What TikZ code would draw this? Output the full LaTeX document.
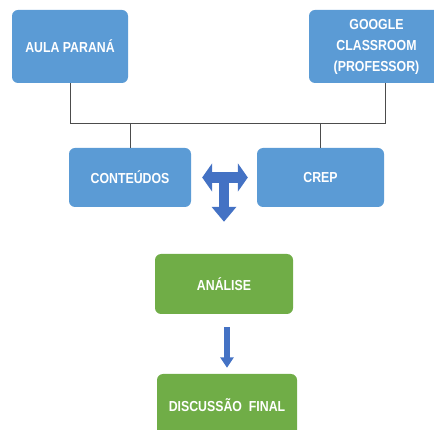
\documentclass[tikz,border=0pt]{standalone}
\usepackage{fontspec}
\setmainfont{Liberation Sans}[FakeStretch=0.85]
\usepackage{xcolor}
\usetikzlibrary{arrows.meta}

\definecolor{boxblue}{HTML}{5B9BD5}
\definecolor{boxgreen}{HTML}{70AD47}
\definecolor{arrowblue}{HTML}{4472C4}

\begin{document}
\begin{tikzpicture}[x=1pt, y=-1pt]
		\tikzstyle{box} = [shape=rectangle, rounded corners=6pt, text=white, align=center, font=\fontsize{14.5}{21}\selectfont\bfseries, inner sep=0pt]
		\tikzstyle{bluebox} = [box, fill=boxblue]
		\tikzstyle{greenbox} = [box, fill=boxgreen]
		\tikzstyle{wire} = [line width=0.8pt, black!70]
		\tikzstyle{fatarrow} = [arrowblue, line width=10.5pt]
		\useasboundingbox (0, 0) rectangle (434, 430);
		\clip (0, 0) rectangle (434, 430);
		\node[bluebox, minimum width=116pt, minimum height=73pt] (aula) at (70, 46.5) {AULA PARANÁ};
		\node[bluebox, minimum width=135pt, minimum height=73pt] (google) at (376.5, 46.5) {GOOGLE\\CLASSROOM\\(PROFESSOR)};
		\node[bluebox, minimum width=122pt, minimum height=59pt] (conteudos) at (130, 177.5) {CONTEÚDOS};
		\node[bluebox, minimum width=127pt, minimum height=59pt] (crep) at (320.5, 177.5) {CREP};
		\node[greenbox, minimum width=138pt, minimum height=60pt] (analise) at (224, 284) {ANÁLISE};
		\node[greenbox, minimum width=140pt, minimum height=62pt] (final) at (227, 405) {DISCUSSÃO\ \ FINAL};
		\coordinate (busL) at (70, 123);
		\coordinate (busR) at (385.5, 123);
		\coordinate (tjoin) at (224, 172.5);
		\draw [wire] (aula.south) -- (busL) -- (busR) -- (busR |- google.south);
		\draw [wire] (conteudos.north |- busL) -- (conteudos.north);
		\draw [wire] (crep.north |- busL) -- (crep.north);
		\draw [fatarrow, {Triangle[width=28pt, length=10pt]}-{Triangle[width=28pt, length=10pt]}, shorten <=11pt, shorten >=9pt] (conteudos.east) -- (crep.west);
		\draw [fatarrow, -{Triangle[width=24pt, length=15pt]}, shorten >=32pt] (tjoin) -- (analise.north);
		\draw [arrowblue, line width=6.5pt, -{Triangle[width=13pt, length=10.5pt]}, shorten <=13pt, shorten >=6pt] (analise.south -| final.north) -- (final.north);
	\end{tikzpicture}
\end{document}
